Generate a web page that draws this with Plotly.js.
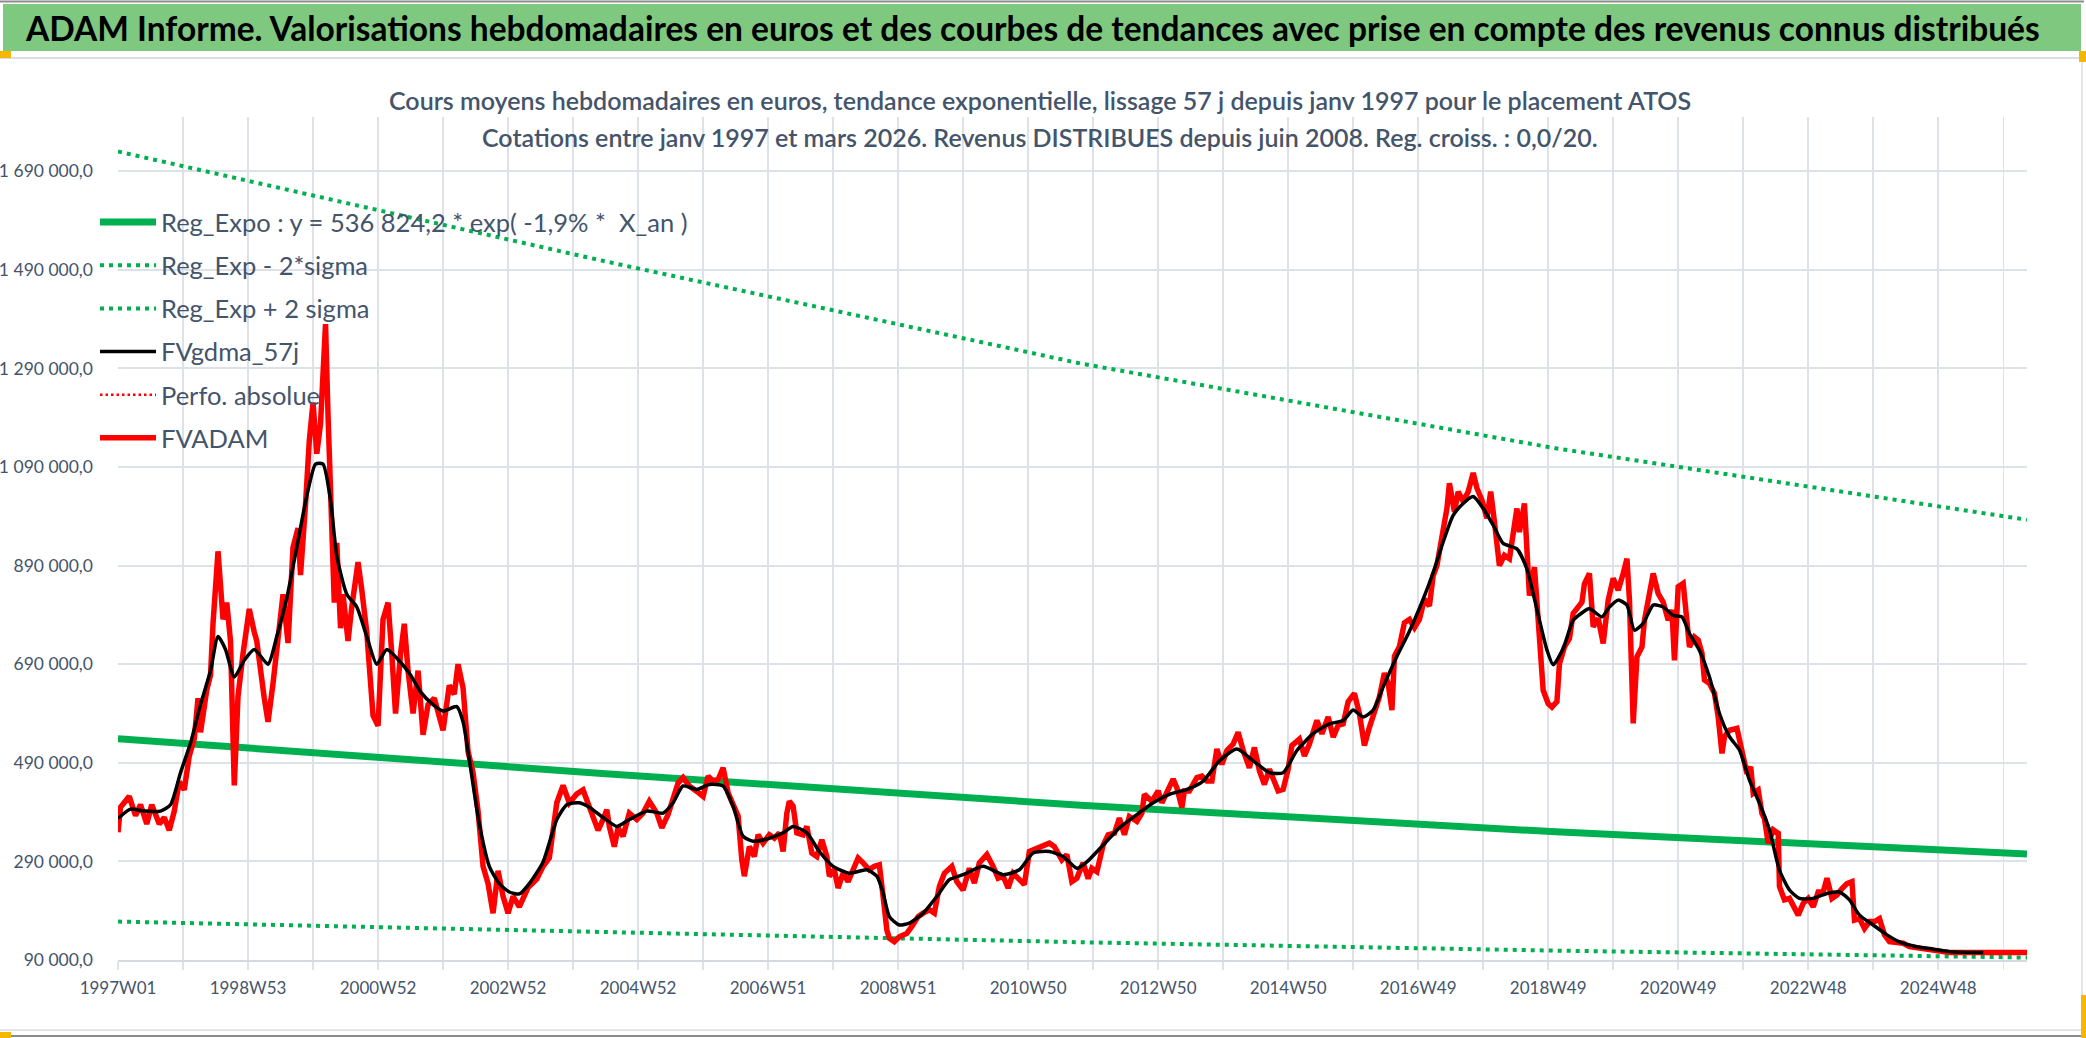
<!DOCTYPE html>
<html>
<head>
<meta charset="utf-8">
<script src="https://cdn.plot.ly/plotly-3.0.1.min.js"></script>
<style>
  html, body { margin: 0; padding: 0; background: #fff; }
  #chart { width: 2086px; height: 1038px; }
</style>
</head>
<body>
<div id="chart"></div>
<script>
// Données (valeurs en milliers d'euros, abscisse = n° de semaine depuis 1997W01)
const xTickWeeks = [0, 104, 208, 312, 416, 520, 624, 728, 832, 936, 1040, 1144, 1248, 1352, 1456];
const xTickLabels = ['1997W01', '1998W53', '2000W52', '2002W52', '2004W52', '2006W51', '2008W51',
  '2010W50', '2012W50', '2014W50', '2016W49', '2018W49', '2020W49', '2022W48', '2024W48'];
const yTickVals = [90, 290, 490, 690, 890, 1090, 1290, 1490, 1690];
const yTickLabels = ['90 000,0', '290 000,0', '490 000,0', '690 000,0', '890 000,0',
  '1 090 000,0', '1 290 000,0', '1 490 000,0', '1 690 000,0'];

// Courbes de tendance
const trendWeeks = [0, 390, 770, 1150, 1527];
const regExpo = [539, 468, 404, 350, 305];
const regMinus2Sigma = [168, 147, 126, 109, 95];
const regPlus2Sigma = [1730, 1507, 1300, 1128, 983];

// FVADAM (cours hebdomadaires)
const fvadamWeeks = [
  0,2,9,14,18,23,27,33,37,41,45,49,53,57,61,64,66,71,74,76,80,84,87,90,93,96,100,105,109,111,
  117,120,124,128,132,136,140,144,146,150,153,156,159,162,166,168,170,173,175,178,180,184,187,192,195,199,204,208,212,216,
  219,222,226,229,232,236,240,244,248,253,260,265,269,272,276,280,284,288,292,296,300,304,308,312,316,321,328,335,340,345,
  351,356,361,367,372,377,384,
  388,391,393,397,400,404,409,415,420,425,431,435,440,444,448,452,457,463,468,472,476,480,484,488,492,496,499,501,505,509,
  512,516,521,525,529,532,535,537,540,543,548,551,555,559,563,567,569,573,576,580,584,588,592,596,601,605,609,612,615,617,
  621,625,631,635,640,644,649,653,657,661,667,671,676,681,685,689,695,700,704,708,712,716,720,725,729,735,740,745,749,755,
  759,763,767,772,
  776,779,783,788,792,797,801,805,809,815,819,821,827,832,835,839,844,847,851,853,857,863,867,871,875,879,883,887,892,896,
  900,905,909,913,917,921,924,928,932,936,939,945,949,953,959,963,968,972,976,980,984,989,993,997,1001,1005,1009,1013,1016,1019,
  1021,1025,1029,1033,1037,1041,1045,1049,1052,1055,1057,1060,1063,1065,1069,1072,1076,1080,1084,1087,1091,1095,1098,1101,1105,1109,1113,1119,1121,1125,
  1129,1133,1137,1140,1144,1147,
  1151,1153,1157,1161,1164,1168,1171,1173,1177,1180,1184,1188,1192,1196,1200,1204,1207,1209,1212,1215,1219,1221,1225,1228,1232,1236,1240,1243,1245,1248,
  1252,1255,1257,1261,1264,1267,1269,1273,1277,1280,1283,1285,1289,1295,1299,1303,1306,1308,1312,1315,1317,1320,1324,1328,1329,1333,1337,1341,1344,1348,
  1352,1356,1360,1364,1367,1371,1375,1379,1383,1387,1389,1393,1397,1401,1405,1409,1413,1417,1423,1428,1433,1441,1449,1457,1465,1492,1527
];
const fvadamValues = [
  349,400,422,383,405,366,405,366,379,353,392,452,435,504,539,621,552,638,668,772,919,781,815,737,444,625,711,802,755,737,
  621,573,651,746,832,733,927,966,871,1014,1143,1221,1117,1178,1380,1195,1022,815,936,763,832,737,806,897,841,755,586,565,781,815,
  711,590,711,772,677,590,677,547,608,621,556,647,629,690,642,513,470,392,280,245,185,271,219,185,219,198,237,254,280,297,
  409,444,409,427,435,400,353,
  375,395,361,320,358,341,388,375,388,412,388,358,385,415,449,460,443,432,422,463,453,456,480,429,402,382,293,260,320,300,
  344,327,344,337,348,310,388,412,402,348,344,361,307,300,334,300,260,273,236,266,249,273,297,287,273,280,283,219,151,134,
  127,137,144,158,178,185,192,185,239,266,280,249,232,276,246,287,304,280,256,260,236,266,256,243,310,317,320,327,320,293,
  304,249,256,287,
  255,276,269,323,344,347,378,344,381,371,388,426,412,433,409,429,457,439,399,433,433,460,463,453,453,518,487,515,528,552,
  515,480,521,474,446,477,460,433,436,477,525,538,504,528,576,549,583,542,566,569,614,631,590,525,562,590,624,672,651,597,
  706,726,774,781,764,781,822,808,870,890,917,951,1006,1057,999,1040,1020,1040,1078,1047,1023,986,1040,979,890,911,904,1006,958,1016,
  829,887,760,637,610,603,
  614,691,725,742,793,806,816,853,874,766,783,732,820,864,840,874,904,820,570,705,725,779,837,874,833,816,779,800,698,847,
  854,766,725,745,739,712,658,651,631,583,509,543,556,560,509,468,482,428,435,387,377,327,354,347,239,212,215,195,181,205,
  215,198,228,228,256,215,222,235,245,249,171,174,154,168,168,174,141,127,124,124,117,114,110,109,105,105,105
];

// FVgdma_57j (moyenne lissée)
const gdmaWeeks = [
  0,10,21,34,42,50,58,66,74,80,86,93,101,109,120,127,135,143,151,158,164,170,175,183,191,199,207,215,226,234,
  242,252,260,271,276,281,289,297,305,313,321,329,340,351,359,369,377,388,399,409,423,436,444,452,463,473,484,492,500,508,
  521,532,540,551,561,572,585,599,607,612,617,625,633,644,655,665,676,692,708,721,732,745,756,767,775,788,801,815,828,841,
  855,868,881,895,908,921,932,943,956,969,980,988,996,1004,1012,1023,1033,1044,1052,1060,1068,1076,1084,1092,1100,1108,1119,1127,1135,1143,
  1148,1156,1164,1172,1177,1187,1193,1200,1207,1213,1220,1228,1236,1244,1251,1257,1265,1273,1281,1289,1297,1305,1313,1321,1329,1337,1345,1356,1367,1377,
  1385,1393,1404,1415,1425,1439,1452,1465,1492
];
const gdmaValues = [
  377,396,392,392,405,470,530,608,677,746,720,664,698,720,690,746,824,927,1031,1096,1096,1022,910,832,806,746,690,720,694,668,
  634,608,595,604,573,496,366,280,245,228,224,245,289,375,405,409,400,379,361,375,392,388,409,443,436,446,443,402,341,331,
  337,348,361,348,310,280,266,273,260,226,178,161,165,185,219,253,263,280,263,273,307,310,300,276,289,323,358,385,409,426,
  436,453,494,518,494,470,470,515,549,569,576,597,583,597,644,706,757,822,876,938,992,1016,1030,1006,972,935,924,883,801,719,
  689,722,779,796,803,786,806,820,810,759,773,810,806,789,786,752,718,664,590,543,516,455,408,354,272,232,215,215,225,228,
  212,181,161,141,127,117,112,107,105
];

// Mise en page (pixels de la fenêtre)
const W = 2086, H = 1038;
const M = { l: 118, r: 59, t: 117, b: 78 };
const plotW = W - M.l - M.r;
const plotH = H - M.t - M.b;
function px(x) { return (x - M.l) / plotW; }
function py(y) { return (H - M.b - y) / plotH; }

const FONT = 'Lato, "Open Sans", sans-serif';
const SLATE = '#44546a';
const GRID = '#dde1e8';

const traces = [
  {
    x: trendWeeks, y: regExpo, type: 'scatter', mode: 'lines',
    name: 'Reg_Expo : y = 536 824,2 * exp( -1,9% *  X_an )',
    line: { color: '#00b050', width: 7 }, legendrank: 1, legendgroup: 'a'
  },
  {
    x: trendWeeks, y: regMinus2Sigma, type: 'scatter', mode: 'lines',
    name: 'Reg_Exp - 2*sigma',
    line: { color: '#00b050', width: 4, dash: '4px,5px' }, legendrank: 2, legendgroup: 'b'
  },
  {
    x: trendWeeks, y: regPlus2Sigma, type: 'scatter', mode: 'lines',
    name: 'Reg_Exp + 2 sigma',
    line: { color: '#00b050', width: 4, dash: '4px,5px' }, legendrank: 3, legendgroup: 'c'
  },
  {
    x: [null], y: [null], type: 'scatter', mode: 'lines',
    name: 'Perfo. absolue',
    line: { color: '#ff0000', width: 2.5, dash: '2.5px,3px' }, legendrank: 5, legendgroup: 'e'
  },
  {
    x: fvadamWeeks, y: fvadamValues, type: 'scatter', mode: 'lines',
    name: 'FVADAM',
    line: { color: '#ff0000', width: 5.5 }, legendrank: 6, legendgroup: 'f'
  },
  {
    x: gdmaWeeks, y: gdmaValues, type: 'scatter', mode: 'lines',
    name: 'FVgdma_57j',
    line: { color: '#000000', width: 3.5, shape: 'spline', smoothing: 0.6 }, legendrank: 4, legendgroup: 'd'
  }
];

const shapes = [
  // bandeau vert
  { type: 'rect', xref: 'paper', yref: 'paper', x0: px(3), x1: px(2081), y0: py(51), y1: py(4),
    fillcolor: '#7ec87f', line: { width: 0 }, layer: 'below' },
  // cadre
  { type: 'line', xref: 'paper', yref: 'paper', x0: px(0), x1: px(2084), y0: py(1.5), y1: py(1.5),
    line: { color: '#8c8c8c', width: 2 } },
  { type: 'line', xref: 'paper', yref: 'paper', x0: px(0), x1: px(2084), y0: py(58), y1: py(58),
    line: { color: '#dadde3', width: 2 } },
  { type: 'line', xref: 'paper', yref: 'paper', x0: px(0), x1: px(2084), y0: py(1030), y1: py(1030),
    line: { color: '#e3e5ea', width: 2 } },
  { type: 'line', xref: 'paper', yref: 'paper', x0: px(0), x1: px(2084), y0: py(1036), y1: py(1036),
    line: { color: '#8c8c8c', width: 2 } },
  { type: 'line', xref: 'paper', yref: 'paper', x0: px(2082), x1: px(2082), y0: py(58), y1: py(1030),
    line: { color: '#e3e5ea', width: 2 } },
  // poignées de sélection
  { type: 'rect', xref: 'paper', yref: 'paper', x0: px(0), x1: px(11), y0: py(58), y1: py(51),
    fillcolor: '#f5b800', line: { width: 0 } },
  { type: 'rect', xref: 'paper', yref: 'paper', x0: px(2079), x1: px(2086), y0: py(62), y1: py(51),
    fillcolor: '#f5b800', line: { width: 0 } },
  { type: 'rect', xref: 'paper', yref: 'paper', x0: px(0), x1: px(11), y0: py(1038), y1: py(1032),
    fillcolor: '#f5b800', line: { width: 0 } },
  { type: 'rect', xref: 'paper', yref: 'paper', x0: px(2081), x1: px(2086), y0: py(1038), y1: py(995),
    fillcolor: '#f5b800', line: { width: 0 } }
];

const annotations = [
  { xref: 'paper', yref: 'paper', x: px(23), y: py(28), xanchor: 'left', yanchor: 'middle', showarrow: false,
    text: 'ADAM Informe. Valorisations hebdomadaires en euros et des courbes de tendances avec prise en compte des revenus connus distribués',
    font: { family: FONT, size: 33.5, color: '#000000', weight: 700 } },
  { xref: 'paper', yref: 'paper', x: px(1040), y: py(100), xanchor: 'center', yanchor: 'middle', showarrow: false,
    text: 'Cours moyens hebdomadaires en euros, tendance exponentielle, lissage 57 j depuis janv 1997 pour le placement ATOS',
    font: { family: FONT, size: 25, color: SLATE, weight: 600 } },
  { xref: 'paper', yref: 'paper', x: px(1040), y: py(137), xanchor: 'center', yanchor: 'middle', showarrow: false,
    text: 'Cotations entre janv 1997 et mars 2026. Revenus DISTRIBUES depuis juin 2008. Reg. croiss. : 0,0/20.',
    font: { family: FONT, size: 25, color: SLATE, weight: 600 } }
];

const layout = {
  width: W, height: H,
  margin: M,
  paper_bgcolor: '#ffffff', plot_bgcolor: '#ffffff',
  font: { family: FONT, color: SLATE },
  showlegend: true,
  legend: {
    x: px(95), xanchor: 'left', y: py(199), yanchor: 'top',
    bgcolor: 'rgba(0,0,0,0)', borderwidth: 0,
    font: { family: FONT, size: 25.5, color: SLATE },
    itemwidth: 56, tracegroupgap: 7, traceorder: 'grouped'
  },
  xaxis: {
    range: [0, 1527], showgrid: true, gridcolor: GRID, gridwidth: 1.5,
    tickmode: 'array', tickvals: xTickWeeks, ticktext: xTickLabels,
    ticks: 'outside', ticklen: 8, tickcolor: GRID, tickwidth: 1.5,
    ticklabelstandoff: 4,
    tickfont: { family: FONT, size: 17, color: SLATE },
    minor: { tickmode: 'linear', tick0: 0, dtick: 52, showgrid: true, gridcolor: GRID, gridwidth: 1.5,
      ticks: 'outside', ticklen: 8, tickcolor: GRID, tickwidth: 1.5 },
    showline: true, linecolor: '#d6d9e0', linewidth: 2,
    zeroline: false, fixedrange: true
  },
  yaxis: {
    range: [90, 1800], showgrid: true, gridcolor: GRID, gridwidth: 2,
    tickmode: 'array', tickvals: yTickVals, ticktext: yTickLabels,
    ticks: '', ticklabelstandoff: 24,
    tickfont: { family: FONT, size: 17.5, color: SLATE },
    showline: false, zeroline: false, fixedrange: true
  },
  shapes: shapes,
  annotations: annotations
};

Plotly.newPlot('chart', traces, layout, { displayModeBar: false, staticPlot: true });
</script>
</body>
</html>
